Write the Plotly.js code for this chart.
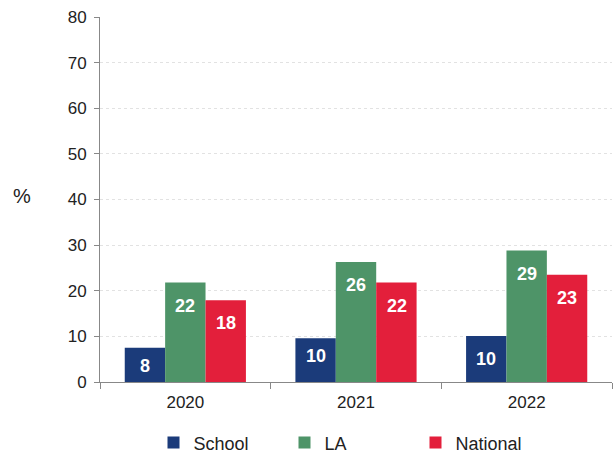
<!DOCTYPE html>
<html>
<head>
<meta charset="utf-8">
<script src="https://cdn.plot.ly/plotly-3.0.1.min.js"></script>
<style>html,body{margin:0;padding:0;background:#fff;}#chart{width:614px;height:457px;}</style>
</head>
<body>
<div id="chart"></div>
<script>
const years = ['2020', '2021', '2022'];
const seriesNames = ['School', 'LA', 'National'];
const schoolValues = [7.5, 9.6, 10.1];
const laValues = [21.8, 26.3, 28.8];
const nationalValues = [17.9, 21.8, 23.5];
const schoolLabels = ['8', '10', '10'];
const laLabels = ['22', '26', '29'];
const nationalLabels = ['18', '22', '23'];
const yTickValues = [0, 10, 20, 30, 40, 50, 60, 70, 80];

const colors = ['#1b3b7a', '#4e9468', '#e31f3b'];
const allValues = [schoolValues, laValues, nationalValues];
const allLabels = [schoolLabels, laLabels, nationalLabels];
const font = 'Liberation Sans, Arial, sans-serif';

const traces = seriesNames.map((name, i) => ({
  type: 'bar',
  name: name,
  x: years,
  y: allValues[i],
  marker: {color: colors[i], line: {width: 0}},
  hoverinfo: 'none'
}));

const shifts = [-40.5, 0, 40.5];
const annotations = [];
allValues.forEach((vals, i) => {
  vals.forEach((v, j) => {
    annotations.push({
      x: j, y: v, xref: 'x', yref: 'y',
      text: '<b>' + allLabels[i][j] + '</b>',
      showarrow: false, xshift: shifts[i], yshift: v < 10 ? -6 : -11,
      xanchor: 'center', yanchor: 'top',
      font: {family: font, size: 18, color: '#ffffff'}
    });
  });
});
annotations.push({
  xref: 'paper', yref: 'paper', x: -0.152, y: 0.51,
  text: '%', showarrow: false, xanchor: 'center', yanchor: 'middle',
  font: {family: font, size: 20, color: '#222'}
});

const layout = {
  width: 614, height: 457,
  margin: {l: 100, r: 2, t: 17, b: 75, autoexpand: false},
  paper_bgcolor: '#ffffff', plot_bgcolor: '#ffffff',
  barmode: 'group', bargap: 0.29, bargroupgap: 0,
  showlegend: true,
  legend: {
    orientation: 'h', xref: 'container', yref: 'container',
    x: 0.25, xanchor: 'left', y: 0.031, yanchor: 'middle',
    entrywidth: 86, entrywidthmode: 'pixels',
    font: {family: font, size: 18, color: '#222'}
  },
  xaxis: {
    type: 'category', range: [-0.5, 2.5], autorange: false,
    tickfont: {family: font, size: 17, color: '#222'},
    ticklabelstandoff: 5,
    showline: true, linecolor: '#888', linewidth: 1,
    ticks: 'outside', ticklen: 6, tickcolor: '#888', tickson: 'boundaries',
    showgrid: false, zeroline: false
  },
  yaxis: {
    range: [0, 80], autorange: false, tickvals: yTickValues,
    tickfont: {family: font, size: 17, color: '#222'},
    ticklabelstandoff: 4,
    showline: true, linecolor: '#888', linewidth: 1,
    ticks: 'outside', ticklen: 5, tickcolor: '#888',
    showgrid: true, gridcolor: '#e2e2e2', gridwidth: 1, griddash: 'dot',
    zeroline: false
  },
  annotations: annotations
};

Plotly.newPlot('chart', traces, layout, {displayModeBar: false, staticPlot: true});
</script>
</body>
</html>
